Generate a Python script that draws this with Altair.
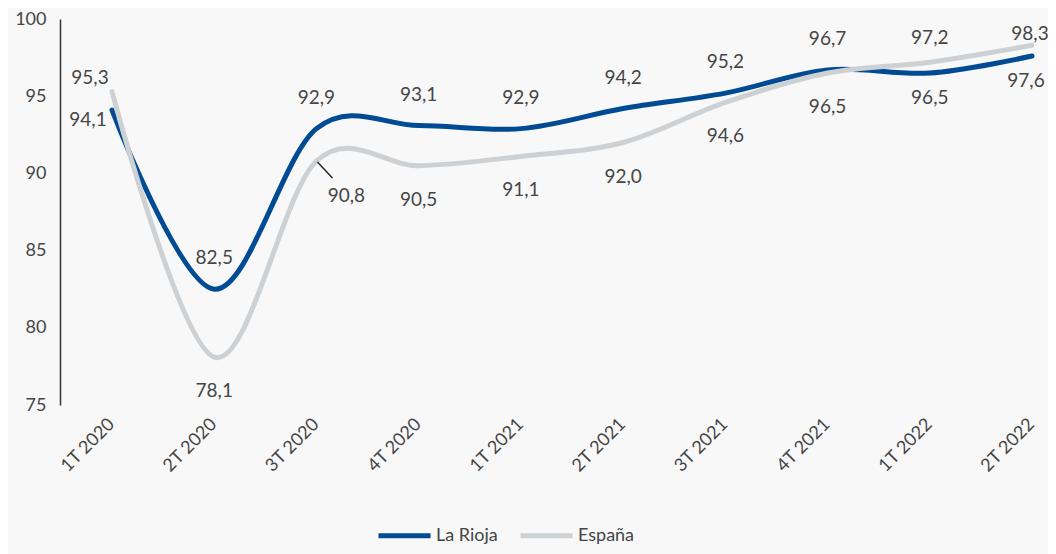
import altair as alt
import pandas as pd

quarters = ["1T 2020", "2T 2020", "3T 2020", "4T 2020", "1T 2021",
            "2T 2021", "3T 2021", "4T 2021", "1T 2022", "2T 2022"]
rioja = [94.1, 82.5, 92.9, 93.1, 92.9, 94.2, 95.2, 96.7, 96.5, 97.6]
espana = [95.3, 78.1, 90.8, 90.5, 91.1, 92.0, 94.6, 96.5, 97.2, 98.3]
series = ["La Rioja", "España"]
colors = ["#004B93", "#CDD1D4"]

rows = []
for i, q in enumerate(quarters):
    rows.append({"quarter": q, "idx": i, "serie": series[0], "value": rioja[i],
                 "upper": rioja[i] >= espana[i]})
    rows.append({"quarter": q, "idx": i, "serie": series[1], "value": espana[i],
                 "upper": espana[i] > rioja[i]})
df = pd.DataFrame(rows)

FONT = "Lato"
TXT = "#454545"

x_enc = alt.X("quarter:N", sort=quarters,
              scale=alt.Scale(type="point", domain=quarters, range=[52, 972], padding=0),
              axis=alt.Axis(title=None, domain=False, ticks=False, labelAngle=-45,
                            labelFontSize=18, labelColor=TXT, labelFont=FONT,
                            labelPadding=10, labelOffset=-7))
y_enc = alt.Y("value:Q",
              scale=alt.Scale(domain=[75, 100], nice=False, zero=False),
              axis=alt.Axis(title=None, values=[75, 80, 85, 90, 95, 100], ticks=False,
                            grid=False, domainColor="#333333", domainWidth=1.5,
                            labelFontSize=18, labelColor=TXT, labelFont=FONT,
                            labelPadding=14))

base = alt.Chart(df)

lines = base.mark_line(interpolate="cardinal", strokeWidth=5, strokeCap="round").encode(
    x=x_enc, y=y_enc,
    color=alt.Color("serie:N", sort=series,
                    scale=alt.Scale(domain=series, range=colors),
                    legend=alt.Legend(title=None, orient="none", direction="horizontal",
                                      legendX=316, legendY=488,
                                      symbolType="stroke", symbolSize=2704,
                                      symbolStrokeWidth=5, labelFontSize=18,
                                      labelColor=TXT, labelFont=FONT, labelOffset=3,
                                      columnPadding=12)),
    order=alt.Order("idx:Q"),
)

labeled = base.transform_calculate(
    label="replace(format(datum.value, '.1f'), '.', ',')"
)


def text_layer(cond, dx, dy):
    return labeled.transform_filter(cond).mark_text(
        font=FONT, fontSize=19, color=TXT, dx=dx, dy=dy
    ).encode(x=alt.X("quarter:N", sort=quarters), y="value:Q", text="label:N")


layers = [
    lines,
    text_layer("datum.upper && datum.idx > 0 && datum.idx < 8", 0, -31),
    text_layer("!datum.upper && datum.idx > 0 && datum.idx < 8 && !(datum.idx == 2 && datum.serie == 'España')", 0, 34),
    text_layer("datum.upper && datum.idx == 8", 0, -24),
    text_layer("!datum.upper && datum.idx == 8", 0, 25),
    text_layer("datum.upper && datum.idx == 9", -2, -11),
    text_layer("!datum.upper && datum.idx == 9", -6, 25),
    text_layer("datum.upper && datum.idx == 0", -22, -14),
    text_layer("!datum.upper && datum.idx == 0", -24, 10),
    text_layer("datum.idx == 2 && datum.serie == 'España'", 30, 35),
    base.transform_filter("datum.idx == 2 && datum.serie == 'España'").mark_rule(
        color="#222222", strokeWidth=1.5, xOffset=1, yOffset=1, x2Offset=16, y2Offset=17
    ).encode(x=alt.X("quarter:N", sort=quarters), x2="quarter:N",
             y="value:Q", y2="value:Q"),
]

chart = alt.layer(*layers).properties(
    width=988, height=386,
    autosize=alt.AutoSizeParams(type="none"),
    padding={"left": 52, "top": 11, "right": 0, "bottom": 150},
    background="#F8F8F8",
).configure_view(stroke=None)

chart.save("out.html", embed_options={"renderer": "svg", "actions": False})
